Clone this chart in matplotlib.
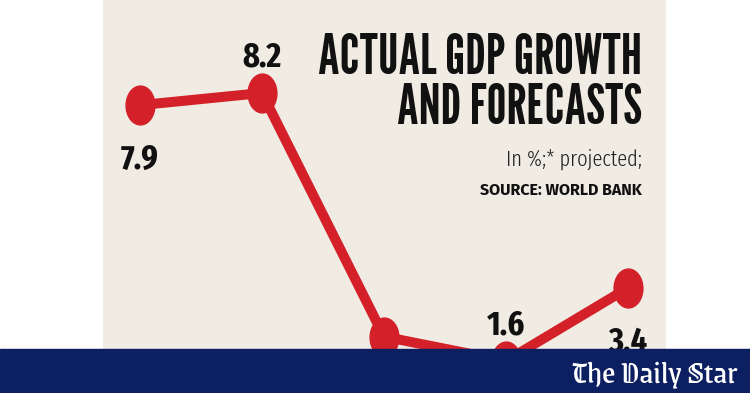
import matplotlib
matplotlib.use("Agg")
import matplotlib.pyplot as plt
from matplotlib.path import Path
from matplotlib.patches import Rectangle
import matplotlib.transforms as mtransforms

# data (third value is hidden behind the banner, estimated from its position)
periods = ["1", "2", "3", "4", "5"]
growth = [7.9, 8.2, 2.2, 1.6, 3.4]
labels = ["7.9", "8.2", "", "1.6", "3.4"]
label_pos = ["below", "above", "below", "above", "below"]

RED = "#d42129"
CREAM = "#f0ece4"
NAVY = "#0c1f60"
TALL = ["League Gothic", "Fira Sans Extra Condensed", "DejaVu Sans"]
COND = ["Fira Sans Extra Condensed", "DejaVu Sans"]

W, H = 750, 393
fig = plt.figure(figsize=(W / 100, H / 100), dpi=100)
fig.patch.set_facecolor("white")

# chart panel
ax = fig.add_axes([103 / W, 0, (666 - 103) / W, 1])
ax.set_facecolor(CREAM)
x = list(range(len(growth)))
ax.set_xlim(-0.303, 4.311)
ax.set_ylim(0.811, 10.49)
ax.axis("off")
ax.add_patch(Rectangle((0, 0), 1, 1, transform=ax.transAxes, color=CREAM, zorder=0))

# elliptical marker (the original graphic is stretched vertically)
ellipse = Path.unit_circle().transformed(mtransforms.Affine2D().scale(1, 1.35))
ax.plot(x, growth, color=RED, lw=7.2, solid_capstyle="round", zorder=2)
ax.plot(x, growth, ls="none", marker=ellipse, ms=28, color=RED, zorder=3)

num_font = dict(family=COND, weight="bold", size=25, color="#111111")
for xi, v, lab, pos in zip(x, growth, labels, label_pos):
    if not lab:
        continue
    if pos == "above":
        ax.annotate(lab, (xi, v), xytext=(0, 19), textcoords="offset points",
                    ha="center", va="baseline", **num_font)
    else:
        ax.annotate(lab, (xi, v), xytext=(0, -46), textcoords="offset points",
                    ha="center", va="baseline", **num_font)

# titles
title_font = dict(family=TALL, size=40, color="#111111")
fig.text(642 / W, 1 - 74 / H, "ACTUAL GDP GROWTH", ha="right", va="baseline", **title_font)
fig.text(642 / W, 1 - 124 / H, "AND FORECASTS", ha="right", va="baseline", **title_font)
fig.text(642 / W, 1 - 166 / H, "In %;* projected;", ha="right", va="baseline",
         family=COND, weight=300, size=16, color="#222222")
fig.text(642 / W, 1 - 195 / H, "SOURCE: WORLD BANK", ha="right", va="baseline",
         family=["Fira Sans", "Open Sans", "DejaVu Sans"], weight="bold", size=11.5,
         color="#111111")

# banner
fig.add_artist(Rectangle((0, 0), 1, 44 / H, transform=fig.transFigure,
                         color=NAVY, zorder=10))
fig.text(737 / W, 1 - 383 / H, "The Daily Star", ha="right", va="baseline",
         family=["Grenze Gotisch", "DejaVu Serif"], size=24,
         color="white", zorder=11)

fig.savefig("out.png", dpi=100, facecolor="white")
